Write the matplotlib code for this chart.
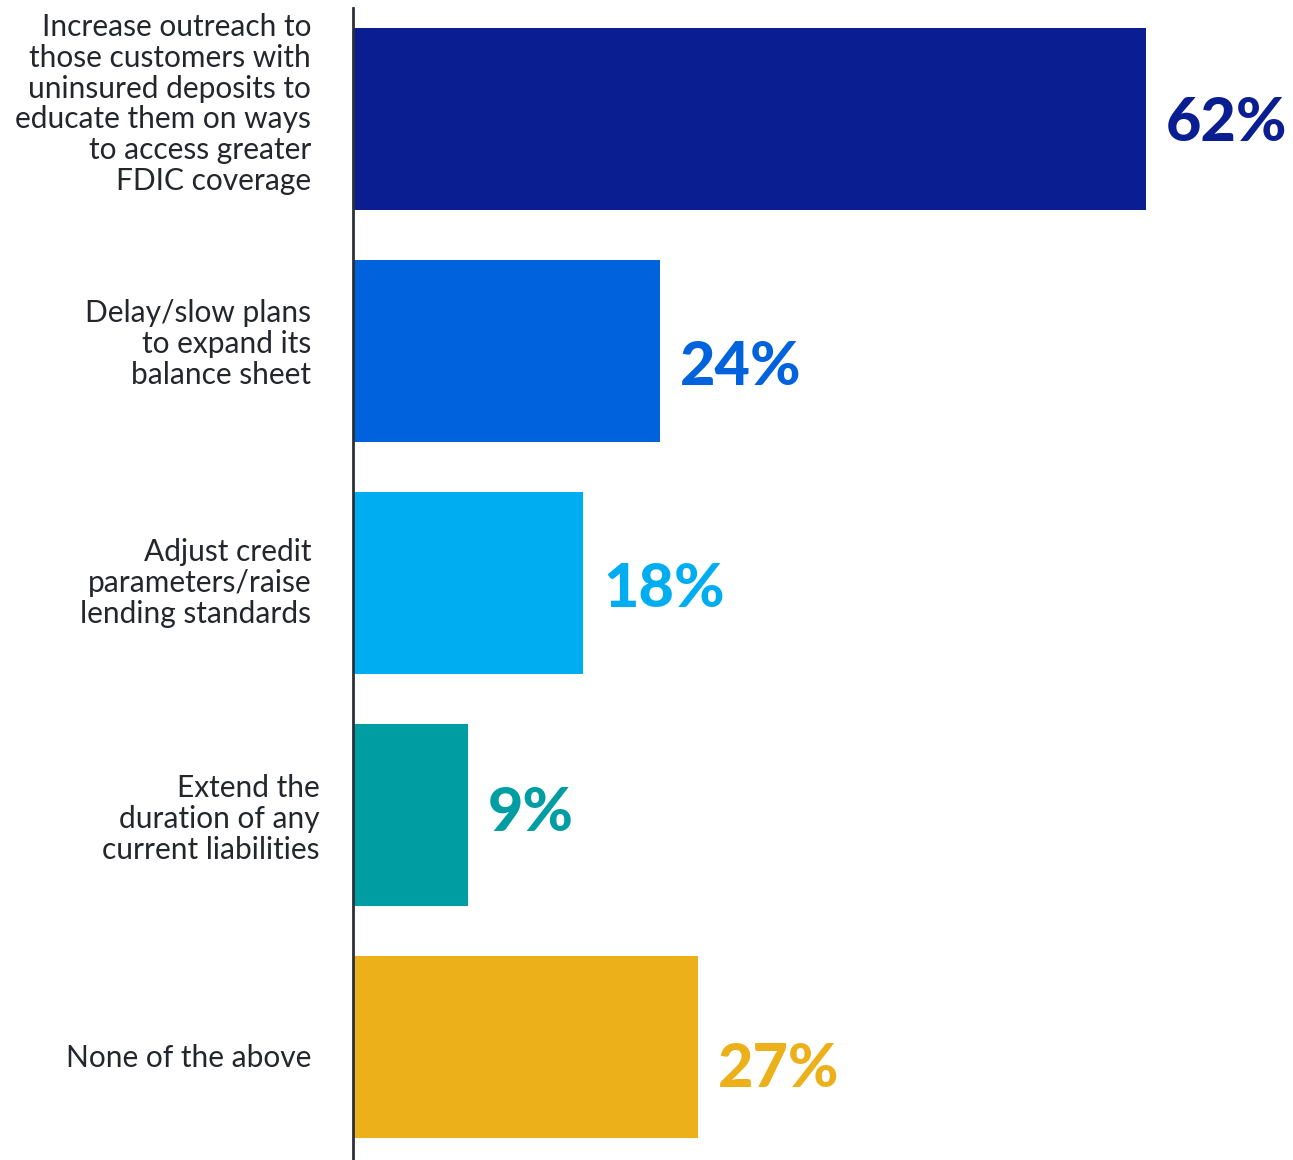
import matplotlib.pyplot as plt
from matplotlib.transforms import offset_copy
import numpy as np

# données
reponses = [
    "Increase outreach to\nthose customers with\nuninsured deposits to\neducate them on ways\nto access greater\nFDIC coverage",
    "Delay/slow plans\nto expand its\nbalance sheet",
    "Adjust credit\nparameters/raise\nlending standards",
    "Extend the\nduration of any\ncurrent liabilities",
    "None of the above",
]
pourcentages = [62, 24, 18, 9, 27]
couleurs = ["#0A1E91", "#0063DD", "#00ADF0", "#009DA3", "#ECB01B"]

plt.rcParams['font.family'] = ['Lato', 'DejaVu Sans']

fig = plt.figure(figsize=(12.93, 11.6), dpi=100)
# axe : de x=353 px au bord droit, de y=8 px au bas
ax = fig.add_axes([353 / 1293, 0, 1 - 353 / 1293, 1 - 8 / 1160])

y = np.arange(len(pourcentages))
ax.barh(y, pourcentages, height=0.785, color=couleurs)

ax.set_xlim(0, 940 / 12.79)
ax.set_ylim(4.487, -0.478)

# seulement la ligne verticale à gauche
for cote in ['top', 'right', 'bottom']:
    ax.spines[cote].set_visible(False)
ax.spines['left'].set_color('#2B3038')
ax.spines['left'].set_linewidth(2)
ax.set_xticks([])
ax.set_yticks([])

# libellés à gauche (décalages en pixels)
decal_x = [-42, -42, -42, -33, -42]
decal_y = [15, 7, 0, -4, -11]
for i, texte in enumerate(reponses):
    tr = offset_copy(ax.transData, fig=fig, x=decal_x[i], y=decal_y[i], units='dots')
    ax.text(0, i, texte, transform=tr, ha='right', va='center',
            fontsize=21.5, color='#23262B', linespacing=1.12, clip_on=False)

# valeurs en gras au bout des barres
decal_val = [-4, -16, -6, 2, -22]
for i, v in enumerate(pourcentages):
    tr = offset_copy(ax.transData, fig=fig, x=20, y=decal_val[i], units='dots')
    ax.text(v, i, f"{v}%", transform=tr, ha='left', va='center',
            fontsize=44, fontweight='black', color=couleurs[i])

fig.savefig('out.png', dpi=100)
